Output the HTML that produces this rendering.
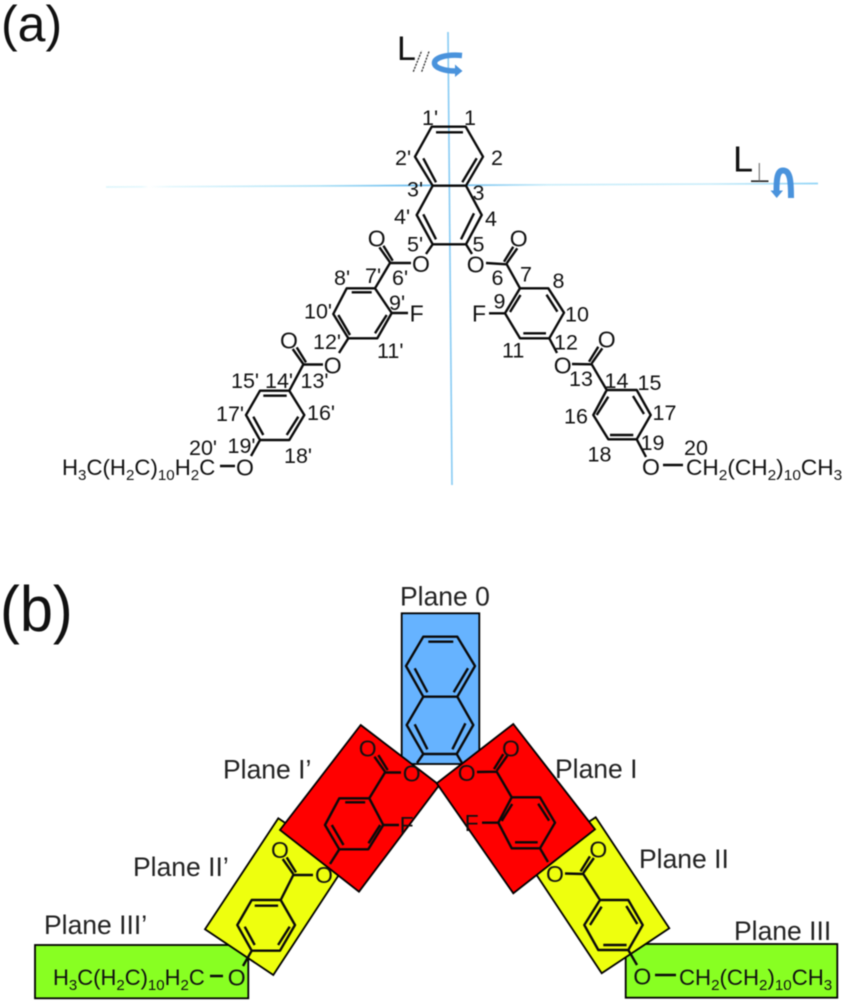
<!DOCTYPE html>
<html>
<head>
<meta charset="utf-8">
<style>
html,body{margin:0;padding:0;background:#fff;width:844px;height:1004px;overflow:hidden}
svg{display:block;filter:blur(.4px)}
text{font-family:"Liberation Sans",sans-serif;fill:#111}
.n{font-size:21.5px}
.a{font-size:23px;text-anchor:middle}
.p{font-size:26.5px;fill:#222}
.b{fill:none;stroke:#0a0a0a;stroke-width:2.4;stroke-linejoin:round}
.r{stroke:#000;stroke-width:1.8}
.f{font-size:22px}
</style>
</head>
<body>
<svg width="844" height="1004" viewBox="0 0 844 1004" xmlns="http://www.w3.org/2000/svg">
<defs>
<linearGradient id="h" gradientUnits="userSpaceOnUse" x1="106" y1="0" x2="818" y2="0">
<stop offset="0" stop-color="#dff6fc"/><stop offset=".05" stop-color="#e6f8fd"/><stop offset=".06" stop-color="#fff"/><stop offset=".09" stop-color="#e6f8fd"/><stop offset=".3" stop-color="#b0e2f6"/><stop offset=".42" stop-color="#72c0ef"/><stop offset=".5" stop-color="#72c0ef"/><stop offset=".62" stop-color="#cdeefa"/><stop offset=".85" stop-color="#cdeefa"/><stop offset="1" stop-color="#90d4f6"/>
</linearGradient>
</defs>

<!-- panel labels -->
<text x="1" y="41" style="font-size:50px;fill:#111">(a)</text>
<text transform="translate(0,631) scale(.93,1)" style="font-size:64px;fill:#111">(b)</text>

<!-- axes -->
<line x1="106" y1="187" x2="818" y2="183.5" stroke="url(#h)" stroke-width="1.8"/>
<line x1="448" y1="32" x2="452" y2="485" stroke="#8ccdf4" stroke-width="1.7"/>

<!-- L parallel -->
<text x="397" y="60" style="font-size:34px">L</text>
<path d="M413.3 71.7L421.7 50.7M421.7 71.7L429.3 50.7" stroke="#333" stroke-width="1.3" stroke-dasharray="2.2 1" fill="none"/>
<path d="M462 55.5C445 54 434.5 58 434.5 63C434.5 68 445 71 455 71" fill="none" stroke="#4a93dc" stroke-width="5.5"/>
<path d="M455 64.5L462.5 71L455 77Z" fill="#4a93dc"/>

<!-- L perpendicular -->
<text x="733" y="171.5" style="font-size:36px">L</text>
<path d="M751 181.2H768.5" stroke="#222" stroke-width="1.6"/>
<path d="M759.3 163V181" stroke="#777" stroke-width="1.2"/>
<path d="M791 198C791 180 790 170.5 783 170.5C777 170.5 776.5 180 776.5 191" fill="none" stroke="#4a93dc" stroke-width="6"/>
<path d="M770.5 190.5L783 190.5L776.7 198Z" fill="#4a93dc"/>

<!-- panel (a) bonds -->
<path class="b" d="M431.7 126.7H465.7L483 156.7L466 185.7H432.7L415 156.7Z
M432.7 185.7L416.7 215L432.7 244.3H466L481.7 215L466 185.7
M436 132.3H463M476.7 158.3L462.3 182.3M423.3 158.3L436 182.3M474 213.3L461 239.3M423.3 214.3L436 239.3
M520 288.3H548.3L564 312.7L549.3 338.3H520L505 313.3Z
M546.5 294.7L557.4 311.7M520.5 295L510 312M523.3 333.3H546
M346.7 288.3H375L391.7 313L377.3 338.3H348.3L333.3 314Z
M351.7 292.3H371.7M386.7 315L375 333.3M338.3 315L350 335
M606.7 390H636.7L650.7 415L636.7 439.3H608.3L593.3 415Z
M633 396L644 414M608.3 396.7L596.7 415M610 435H633.3
M260 390.7H289.3L304.3 415L289.3 440H260L246 415Z
M263.3 395.7H286.7M298.3 416.7L286.7 435M253.3 416.7L263.3 435
M506.7 263.3l10.6-15M504 261.7l9.3-15M591.7 363.3l10.6-15M589 361.7l9.3-15
M390 262.3l-10.6-15M392.7 260.7l-9.3-15M303.3 364l-10.6-15M306 362.4l-9.3-15
M466 244.3L472 254M486 263L506.7 264.3L520 288.3M505 313.3H489M549.3 338.3L557 353M572 364L591.7 364.3L606.7 390M636.7 439.3L646 457M663 465H683
M432.7 244.3L426 254M411 263H390L375 288.3M391.7 313H408M348.3 338.3L339 353M323 364.5H303.3L289.3 390.7M260 440L251 456M235 466H220"/>

<!-- panel (a) atoms -->
<text class="a" x="518.7" y="246.5">O</text>
<text class="a" x="475.7" y="272.5">O</text>
<text class="a" x="376.7" y="246.5">O</text>
<text class="a" x="421" y="272">O</text>
<text class="a" x="606.7" y="347.5">O</text>
<text class="a" x="562.7" y="373.5">O</text>
<text class="a" x="289" y="348.5">O</text>
<text class="a" x="332.7" y="373.5">O</text>
<text class="a" x="651" y="475">O</text>
<text class="a" x="245" y="475.5">O</text>
<text class="a" x="479" y="321.5">F</text>
<text class="a" x="416.7" y="321.5">F</text>
<text class="f" transform="translate(62,475) scale(1.01,1)">H<tspan dy="5" font-size="15">3</tspan><tspan dy="-5">C(H</tspan><tspan dy="5" font-size="15">2</tspan><tspan dy="-5">C)</tspan><tspan dy="5" font-size="15">10</tspan><tspan dy="-5">H</tspan><tspan dy="5" font-size="15">2</tspan><tspan dy="-5">C</tspan></text>
<text class="f" transform="translate(686,475) scale(1.03,1)">CH<tspan dy="5" font-size="15">2</tspan><tspan dy="-5">(CH</tspan><tspan dy="5" font-size="15">2</tspan><tspan dy="-5">)</tspan><tspan dy="5" font-size="15">10</tspan><tspan dy="-5">CH</tspan><tspan dy="5" font-size="15">3</tspan></text>

<!-- panel (a) numbers -->
<g class="n">
<text class="n" x="422" y="125">1'</text>
<text class="n" x="464" y="125">1</text>
<text class="n" x="395" y="165">2'</text>
<text class="n" x="491" y="165">2</text>
<text class="n" x="407" y="196.7">3'</text>
<text class="n" x="472.5" y="200">3</text>
<text class="n" x="394" y="224">4'</text>
<text class="n" x="485" y="226">4</text>
<text class="n" x="407" y="251.7">5'</text>
<text class="n" x="472.5" y="251.7">5</text>
<text class="n" x="392" y="285">6'</text>
<text class="n" x="491.5" y="285">6</text>
<text class="n" x="365" y="283">7'</text>
<text class="n" x="520" y="281.7">7</text>
<text class="n" x="334" y="285">8'</text>
<text class="n" x="552.5" y="288">8</text>
<text class="n" x="389" y="310">9'</text>
<text class="n" x="304" y="318.3">10'</text>
<text class="n" x="313" y="349">12'</text>
<text class="n" x="377" y="358">11'</text>
<text class="n" x="231" y="388">15'</text>
<text class="n" x="265" y="388">14'</text>
<text class="n" x="300.5" y="388">13'</text>
<text class="n" x="216" y="421">17'</text>
<text class="n" x="307" y="420">16'</text>
<text class="n" x="189" y="455">20'</text>
<text class="n" x="227.5" y="453">19'</text>
<text class="n" x="284" y="463">18'</text>
<text class="n" x="493.5" y="308.3">9</text>
<text class="n" x="565" y="321.7">10</text>
<text class="n" x="554" y="349.3">12</text>
<text class="n" x="502" y="357.3">11</text>
<text class="n" x="569" y="386">13</text>
<text class="n" x="604.5" y="388">14</text>
<text class="n" x="637.5" y="390">15</text>
<text class="n" x="652.5" y="420">17</text>
<text class="n" x="564" y="423.3">16</text>
<text class="n" x="640.5" y="450">19</text>
<text class="n" x="587.5" y="461.7">18</text>
<text class="n" x="684" y="455">20</text>
</g>

<!-- panel (b) shapes -->
<rect class="r" x="401.7" y="613.3" width="77.6" height="150.7" fill="#66b3ff"/>
<rect class="r" x="35" y="945" width="213.3" height="53.3" fill="#88ff22"/>
<rect class="r" x="625.7" y="944" width="211.6" height="53.7" fill="#88ff22"/>
<polygon class="r" points="278.3,818.3 205,929.3 273.3,975 346,864" fill="#eeff0e"/>
<polygon class="r" points="595.7,817.3 669.3,928.3 601.7,973.3 528,862" fill="#eeff0e"/>
<polygon class="r" points="360.7,725 439.3,785 359,891.7 280,830" fill="#ff0000"/>
<polygon class="r" points="513.3,724 595,829.3 513.3,893.3 436.7,783.3" fill="#ff0000"/>

<!-- panel (b) bonds -->
<path class="b" d="M423.3 636.7H457.3L475 666L457.3 696.7H423.3L406 666Z
M423.3 696.7L406.7 725L423.3 754H456.7L473.3 725L457.3 696.7
M428.3 641.7H453.3M468 668.3L453.7 692.3M414.7 668.3L427.4 692.3M465.4 723.3L452.4 749.3M414.7 724.3L427.4 749.3
M511.7 797.3H540L555 822.7L540 848.3H511.7L498.3 822.7Z
M538.2 803.7L549.1 820.7M512.2 804L501.7 821M515 842.3H537.7
M339.3 798.3H369.3L383.3 825L368.3 849.3H339.3L325 825Z
M345.2 802.3H365.2M380.2 825L368.5 843.3M331.8 825L343.5 845
M600 900H628.3L642.7 925L628.3 950H598.3L584.3 925Z
M626.3 906L637.3 924M601.6 906.7L590 925M603.3 945H626.6
M251.7 900H280.7L295 925L280 950.7H251.7L237.3 925Z
M254.7 905.7H278.1M289.7 926.7L278.1 945M244.7 926.7L254.7 945
M496.7 770.7l10.6-15M494 769.1l9.3-15M583.3 873l10.6-15M580.6 871.4l9.3-15
M385 771.7l-10.6-15M387.7 770.1l-9.3-15M293.3 874l-10.6-15M296 872.4l-9.3-15
M456.7 754L462 763M477 772L496.7 771.7L511.7 797.3M498.3 822.7H482M540 848.3L548 862M565 873.5L583.3 874L600 900M628.3 950L637 965M655 975H676
M423.3 754L417 763M401 772.5H385L369.3 798.3M383.3 825H399M339.3 849.3L330 864M313 875H293.3L280.7 900M251.7 950.7L243 966M223 976H210"/>

<!-- panel (b) atoms -->
<text class="a" x="511" y="756.5">O</text>
<text class="a" x="466.7" y="781">O</text>
<text class="a" x="367.7" y="756.5">O</text>
<text class="a" x="411.7" y="781.5">O</text>
<text class="a" x="598.3" y="857.5">O</text>
<text class="a" x="555" y="882">O</text>
<text class="a" x="280" y="858">O</text>
<text class="a" x="324" y="883">O</text>
<text class="a" x="642.3" y="984.7">O</text>
<text class="a" x="236.7" y="985.3">O</text>
<text class="a" x="471.7" y="831">F</text>
<text class="a" x="406.7" y="833">F</text>
<text class="f" transform="translate(53,985)">H<tspan dy="5" font-size="15">3</tspan><tspan dy="-5">C(H</tspan><tspan dy="5" font-size="15">2</tspan><tspan dy="-5">C)</tspan><tspan dy="5" font-size="15">10</tspan><tspan dy="-5">H</tspan><tspan dy="5" font-size="15">2</tspan><tspan dy="-5">C</tspan></text>
<text class="f" transform="translate(679,985) scale(1.01,1)">CH<tspan dy="5" font-size="15">2</tspan><tspan dy="-5">(CH</tspan><tspan dy="5" font-size="15">2</tspan><tspan dy="-5">)</tspan><tspan dy="5" font-size="15">10</tspan><tspan dy="-5">CH</tspan><tspan dy="5" font-size="15">3</tspan></text>

<!-- plane labels -->
<text class="p" x="400" y="605.7">Plane 0</text>
<text class="p" x="223" y="778.3">Plane I’</text>
<text class="p" x="555" y="778">Plane I</text>
<text class="p" x="133" y="876">Plane II’</text>
<text class="p" x="639" y="868">Plane II</text>
<text class="p" x="44" y="934">Plane III’</text>
<text class="p" x="734" y="940">Plane III</text>
</svg>
</body>
</html>
